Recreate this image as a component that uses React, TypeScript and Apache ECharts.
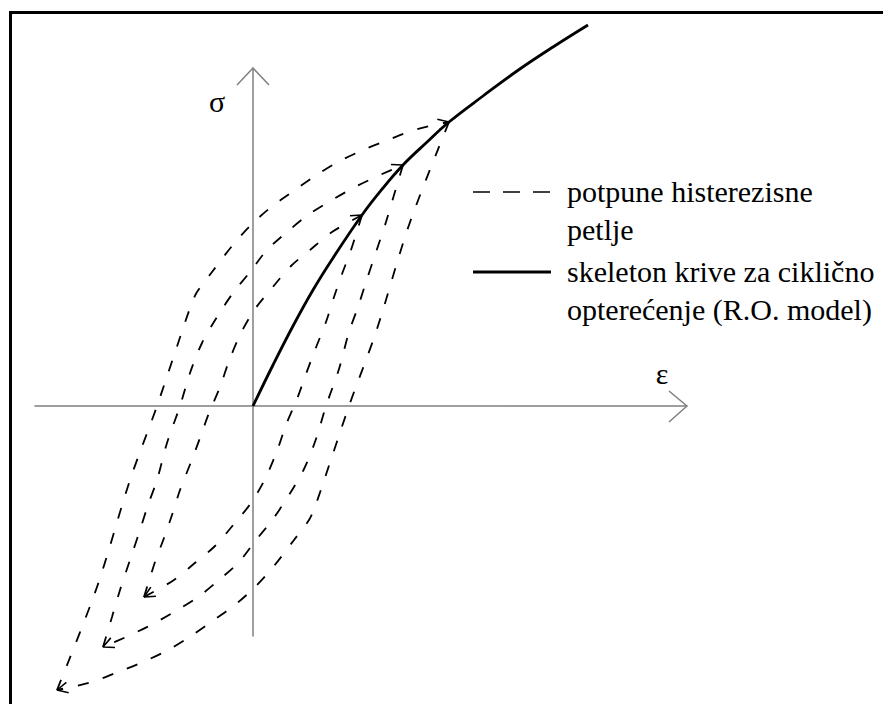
import React, { useEffect, useRef } from "react";
import * as echarts from "echarts";

// Strain (ε) and stress (σ) in drawing units: one unit per pixel on both axes,
// so loop shapes and arrowheads keep their proportions.
const EPS_MIN = -218;
const EPS_MAX = 434;
const SIG_MIN = -230;
const SIG_MAX = 338;

// Cyclic skeleton curve (Ramberg–Osgood), from the origin upward.
const skeleton: [number, number][] = [
  [0, 0], [20, 41], [40, 80], [60, 116], [80, 148], [109, 191],
  [130, 218], [150, 241], [173, 263], [196, 284], [230, 310], [264, 335],
  [300, 359], [335, 381],
];

// Loop 1 (smallest amplitude)
const loop1Reload: [number, number][] = [
  [-109, -191], [-98, -156], [-89, -132], [-81, -109], [-73, -84], [-62, -56],
  [-53, -32], [-44, -7], [-33, 19], [-24, 45], [-12, 73], [2, 97], [19, 118],
  [38, 140], [57, 156], [79, 174], [109, 191],
];
const loop1Unload: [number, number][] = [
  [109, 191], [98, 156], [89, 132], [81, 109], [73, 84], [62, 56],
  [53, 32], [44, 7], [33, -19], [24, -45], [12, -73], [-2, -97], [-19, -118],
  [-38, -140], [-57, -156], [-79, -174], [-109, -191],
];

// Loop 2
const loop2Reload: [number, number][] = [
  [-150, -241], [-141, -211], [-133, -184], [-123, -154], [-113, -124],
  [-105, -99], [-96, -74], [-86, -37], [-73, 0], [-63, 33], [-51, 63],
  [-36, 89], [-20, 113], [-3, 134], [14, 156], [34, 174], [55, 191],
  [79, 206], [102, 219], [127, 231], [150, 241],
];
const loop2Unload: [number, number][] = [
  [150, 241], [141, 211], [133, 184], [123, 154], [113, 124],
  [105, 99], [96, 74], [86, 37], [73, 0], [63, -33], [51, -63],
  [36, -89], [20, -113], [3, -134], [-14, -156], [-34, -174], [-55, -191],
  [-79, -206], [-102, -219], [-127, -231], [-150, -241],
];

// Loop 3 (largest amplitude)
const loop3Reload: [number, number][] = [
  [-196, -284], [-156, -181], [-123, -74], [-96, 0], [-63, 98], [-56, 114],
  [-41, 134], [-21, 160], [-2, 181], [17, 198], [39, 214], [62, 230],
  [85, 244], [110, 256], [135, 266], [161, 276], [196, 284],
];
const loop3Unload: [number, number][] = [
  [196, 284], [156, 181], [123, 74], [96, 0], [63, -98], [56, -114],
  [41, -134], [21, -160], [2, -181], [-17, -198], [-39, -214], [-62, -230],
  [-85, -244], [-110, -256], [-135, -266], [-161, -276], [-196, -284],
];

const branches = [loop1Reload, loop1Unload, loop2Reload, loop2Unload, loop3Reload, loop3Unload];

const legendLoops = "potpune histerezisne";
const legendLoops2 = "petlje";
const legendSkeleton = "skeleton krive za ciklično";
const legendSkeleton2 = "opterećenje (R.O. model)";

const SERIF = "Liberation Serif";
const AXIS_GRAY = "#7f7f7f";

// Open arrowhead at the end of a polyline, oriented along its last segment.
function chevron(pts: [number, number][], len: number, halfDeg: number): [number, number][] {
  const [x1, y1] = pts[pts.length - 2];
  const [x2, y2] = pts[pts.length - 1];
  const d = Math.hypot(x2 - x1, y2 - y1);
  const ux = (x2 - x1) / d;
  const uy = (y2 - y1) / d;
  const a = (halfDeg * Math.PI) / 180;
  const rot = (s: number): [number, number] => {
    const c = Math.cos(s * a);
    const sn = Math.sin(s * a);
    const rx = ux * c - uy * sn;
    const ry = ux * sn + uy * c;
    return [x2 - len * rx, y2 - len * ry];
  };
  return [rot(1), [x2, y2], rot(-1)];
}

function label(text: string, x: number, y: number, size: number, align = "left") {
  return {
    type: "text",
    x,
    y,
    silent: true,
    style: {
      text,
      fontFamily: SERIF,
      fontSize: size,
      fill: "#000",
      align,
      verticalAlign: "middle",
    },
  };
}

export default function App() {
  const ref = useRef<HTMLDivElement>(null);

  useEffect(() => {
    if (!ref.current) return;
    const chart = echarts.init(ref.current, undefined, { renderer: "svg" });

    const dashed = branches.map((data) => ({
      type: "line",
      data,
      smooth: 0.3,
      clip: false,
      symbol: "none",
      silent: true,
      lineStyle: { color: "#000", width: 1.8, type: [11, 15] },
    }));

    const branchArrows = branches.map((data) => ({
      type: "line",
      data: chevron(data, 12, 26),
      clip: false,
      symbol: "none",
      silent: true,
      lineStyle: { color: "#000", width: 1.6 },
    }));

    const axisArrows = [
      [[EPS_MAX - 18, 15], [EPS_MAX, 0], [EPS_MAX - 18, -16]],
      [[-16, SIG_MAX - 17], [0, SIG_MAX], [16, SIG_MAX - 17]],
    ].map((data) => ({
      type: "line",
      data,
      clip: false,
      symbol: "none",
      silent: true,
      lineStyle: { color: AXIS_GRAY, width: 1.5 },
    }));

    const hiddenAxis = {
      type: "value",
      axisTick: { show: false },
      axisLabel: { show: false },
      splitLine: { show: false },
      axisLine: { show: true, onZero: true, lineStyle: { color: AXIS_GRAY, width: 1.5 } },
    };

    chart.setOption({
      animation: false,
      backgroundColor: "#ffffff",
      grid: { left: 35, top: 68, width: EPS_MAX - EPS_MIN, height: SIG_MAX - SIG_MIN },
      xAxis: { ...hiddenAxis, min: EPS_MIN, max: EPS_MAX },
      yAxis: { ...hiddenAxis, min: SIG_MIN, max: SIG_MAX },
      series: [
        ...dashed,
        ...branchArrows,
        ...axisArrows,
        {
          type: "line",
          data: skeleton,
          smooth: 0.4,
          clip: false,
          symbol: "none",
          silent: true,
          lineStyle: { color: "#000", width: 2.8 },
        },
      ],
      graphic: [
        {
          type: "rect",
          shape: { x: 10.5, y: 12.5, width: 1000, height: 1000 },
          style: { fill: "none", stroke: "#000", lineWidth: 3 },
          silent: true,
        },
        label("σ", 217, 101, 30, "center"),
        label("ε", 662, 373, 30, "center"),
        {
          type: "line",
          silent: true,
          shape: { x1: 473, y1: 192, x2: 551, y2: 192 },
          style: { stroke: "#000", lineWidth: 1.5, lineDash: [17, 13] },
        },
        {
          type: "line",
          silent: true,
          shape: { x1: 473, y1: 272, x2: 551, y2: 272 },
          style: { stroke: "#000", lineWidth: 3 },
        },
        label(legendLoops, 567, 191, 30),
        label(legendLoops2, 567, 229, 30),
        label(legendSkeleton, 567, 271, 30),
        label(legendSkeleton2, 567, 309, 30),
      ],
    });

    return () => chart.dispose();
  }, []);

  return (
    <div
      ref={ref}
      style={{ position: "absolute", left: 0, top: 0, width: 883, height: 704, background: "#fff" }}
    />
  );
}
